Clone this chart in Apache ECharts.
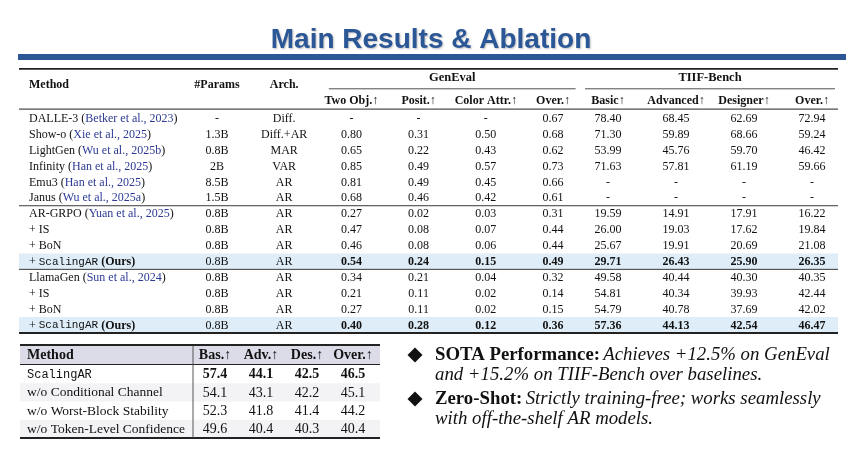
<!DOCTYPE html>
<html>
<head>
<meta charset="utf-8">
<script src="https://cdn.jsdelivr.net/npm/echarts@6/dist/echarts.min.js"></script>
<style>
  html, body { margin: 0; padding: 0; background: #fff; }
  #main { width: 862px; height: 456px; }
</style>
</head>
<body>
<div id="main"></div>
<script>
// main table
const methods = ['DALLE-3', 'Show-o', 'LightGen', 'Infinity', 'Emu3', 'Janus',
  'AR-GRPO', '+ IS', '+ BoN', '+ ScalingAR (Ours)',
  'LlamaGen', '+ IS', '+ BoN', '+ ScalingAR (Ours)'];
const citations = ['Betker et al., 2023', 'Xie et al., 2025', 'Wu et al., 2025b', 'Han et al., 2025',
  'Han et al., 2025', 'Wu et al., 2025a', 'Yuan et al., 2025', '', '', '',
  'Sun et al., 2024', '', '', ''];
const params = ['-', '1.3B', '0.8B', '2B', '8.5B', '1.5B', '0.8B', '0.8B', '0.8B', '0.8B', '0.8B', '0.8B', '0.8B', '0.8B'];
const arch = ['Diff.', 'Diff.+AR', 'MAR', 'VAR', 'AR', 'AR', 'AR', 'AR', 'AR', 'AR', 'AR', 'AR', 'AR', 'AR'];
const twoObj = [null, 0.80, 0.65, 0.85, 0.81, 0.68, 0.27, 0.47, 0.46, 0.54, 0.34, 0.21, 0.27, 0.40];
const posit = [null, 0.31, 0.22, 0.49, 0.49, 0.46, 0.02, 0.08, 0.08, 0.24, 0.21, 0.11, 0.11, 0.28];
const colorAttr = [null, 0.50, 0.43, 0.57, 0.45, 0.42, 0.03, 0.07, 0.06, 0.15, 0.04, 0.02, 0.02, 0.12];
const genOver = [0.67, 0.68, 0.62, 0.73, 0.66, 0.61, 0.31, 0.44, 0.44, 0.49, 0.32, 0.14, 0.15, 0.36];
const basic = [78.40, 71.30, 53.99, 71.63, null, null, 19.59, 26.00, 25.67, 29.71, 49.58, 54.81, 54.79, 57.36];
const advanced = [68.45, 59.89, 45.76, 57.81, null, null, 14.91, 19.03, 19.91, 26.43, 40.44, 40.34, 40.78, 44.13];
const designer = [62.69, 68.66, 59.70, 61.19, null, null, 17.91, 17.62, 20.69, 25.90, 40.30, 39.93, 37.69, 42.54];
const tiifOver = [72.94, 59.24, 46.42, 59.66, null, null, 16.22, 19.84, 21.08, 26.35, 40.35, 42.44, 42.02, 46.47];
const genHeads = ['#Params', 'Arch.', 'Two Obj.↑', 'Posit.↑', 'Color Attr.↑', 'Over.↑'];
const tiifHeads = ['Basic↑', 'Advanced↑', 'Designer↑', 'Over.↑'];
const highlightRows = [9, 13];
const breakAfter = [5, 9];

// ablation table
const ablMethods = ['ScalingAR', 'w/o Conditional Channel', 'w/o Worst-Block Stability', 'w/o Token-Level Confidence'];
const ablBas = [57.4, 54.1, 52.3, 49.6];
const ablAdv = [44.1, 43.1, 41.8, 40.4];
const ablDes = [42.5, 42.2, 41.4, 40.3];
const ablOver = [46.5, 45.1, 44.2, 40.4];
const ablHeads = ['Bas.↑', 'Adv.↑', 'Des.↑', 'Over.↑'];

const notes = [
  { head: 'SOTA Performance:', lines: ['Achieves +12.5% on GenEval', 'and +15.2% on TIIF-Bench over baselines.'] },
  { head: 'Zero-Shot:', lines: ['Strictly training-free; works seamlessly', 'with off-the-shelf AR models.'] }
];

const SERIF = '"Liberation Serif", "DejaVu Serif", serif';
const MONO = '"Liberation Mono", "DejaVu Sans Mono", monospace';
const INK = '#111';
const CITE = '#2c3a94';

const f2 = v => v == null ? '-' : v.toFixed(2);
const f1 = v => v.toFixed(1);
const genCols = [params, arch, twoObj.map(f2), posit.map(f2), colorAttr.map(f2), genOver.map(f2)];
const tiifCols = [basic, advanced, designer, tiifOver].map(a => a.map(f2));
const ablCols = [ablBas, ablAdv, ablDes, ablOver].map(a => a.map(f1));

function cells(nc, nr) {
  const d = [];
  for (let r = 0; r < nr; r++) for (let c = 0; c < nc; c++) d.push([c, r]);
  return d;
}

function methodText(name, cite) {
  if (name.indexOf('ScalingAR') >= 0) {
    const pre = name.slice(0, name.indexOf('ScalingAR'));
    const post = name.slice(name.indexOf('ScalingAR') + 9).trim();
    return (pre ? '{n|' + pre + '}' : '') + '{m|ScalingAR}' + (post ? '{n| }{b|' + post + '}' : '');
  }
  if (cite) return '{n|' + name + ' (}{c|' + cite + '}{n|)}';
  return '{n|' + name + '}';
}

function richSet(size, mono) {
  return {
    n: { fontFamily: SERIF, fontSize: size, fill: INK },
    c: { fontFamily: SERIF, fontSize: size, fill: CITE },
    m: { fontFamily: MONO, fontSize: mono, fill: INK },
    b: { fontFamily: SERIF, fontSize: size, fontWeight: 'bold', fill: INK }
  };
}

function hline(x0, x1, y, w) {
  return { type: 'line', shape: { x1: x0, y1: y, x2: x1, y2: y }, style: { stroke: '#222', lineWidth: w } };
}

function headText(x, y, text, align, size) {
  return { type: 'text', x: x, y: y, style: { text: text, fontFamily: SERIF, fontSize: size || 12, fontWeight: 'bold', fill: INK, align: align || 'center', verticalAlign: 'middle' } };
}

// frame of the main table: rules, highlight bands, method names
function mainFrame(params, api) {
  const r = api.value(1);
  const p = api.coord([0, r]);
  const h = api.size([0, 1])[1];
  const cs = params.coordSys;
  const kids = [];
  if (highlightRows.indexOf(r) >= 0) {
    kids.push({ type: 'rect', shape: { x: cs.x, y: p[1] - h / 2, width: cs.width, height: h }, style: { fill: '#deedf8' } });
  }
  kids.push({ type: 'text', x: cs.x + 10, y: p[1] + 0.5, style: { text: methodText(methods[r], citations[r]), rich: richSet(12, 11), align: 'left', verticalAlign: 'middle' } });
  if (breakAfter.indexOf(r) >= 0) kids.push(hline(cs.x, cs.x + cs.width, p[1] + h / 2, 0.9));
  if (r === 0) {
    kids.push(hline(cs.x, cs.x + cs.width, cs.y - 41.5, 1.8));
    kids.push(hline(cs.x, cs.x + cs.width, cs.y - 1.2, 1));
    kids.push(headText(cs.x + 10, cs.y - 25, 'Method', 'left'));
  }
  if (r === methods.length - 1) kids.push(hline(cs.x, cs.x + cs.width, p[1] + h / 2, 1.8));
  return { type: 'group', children: kids };
}

function mainCells(cols, heads, group, boldFrom) {
  return function (params, api) {
    const c = api.value(0), r = api.value(1);
    const p = api.coord([c, r]);
    const cs = params.coordSys;
    const bold = highlightRows.indexOf(r) >= 0 && c >= boldFrom;
    const kids = [{ type: 'text', x: p[0], y: p[1] + 0.5, style: { text: cols[c][r], fontFamily: SERIF, fontSize: 12, fontWeight: bold ? 'bold' : 'normal', fill: INK, align: 'center', verticalAlign: 'middle' } }];
    if (r === 0) {
      kids.push(headText(p[0], c >= group.from ? cs.y - 9.5 : cs.y - 25, heads[c]));
      if (c === group.from) {
        const bw = api.size([1, 0])[0];
        const x0 = p[0] - bw / 2 + 11;
        const x1 = api.coord([group.to, 0])[0] + bw / 2 - 11;
        kids.push(headText((x0 + x1) / 2, cs.y - 33, group.name, 'center', 12.5));
        kids.push(hline(x0, x1, cs.y - 21.5, 0.8));
      }
    }
    return { type: 'group', children: kids };
  };
}

function ablFrame(params, api) {
  const r = api.value(1);
  const p = api.coord([0, r]);
  const h = api.size([0, 1])[1];
  const cs = params.coordSys;
  const kids = [];
  if (r % 2 === 1) {
    kids.push({ type: 'rect', shape: { x: cs.x, y: p[1] - h / 2, width: cs.width, height: h }, style: { fill: '#f3f3f6' } });
  }
  kids.push({ type: 'text', x: cs.x + 7, y: p[1] + 0.5, style: { text: methodText(ablMethods[r], ''), rich: richSet(13.5, 12), align: 'left', verticalAlign: 'middle' } });
  if (r === 0) {
    kids.push({ type: 'rect', shape: { x: cs.x, y: cs.y - 20, width: cs.width, height: 20 }, style: { fill: '#dcdce9' } });
    kids.push(hline(cs.x, cs.x + cs.width, cs.y - 20, 1.8));
    kids.push(hline(cs.x, cs.x + cs.width, cs.y - 0.5, 1));
    kids.push(headText(cs.x + 7, cs.y - 10, 'Method', 'left', 14));
  }
  if (r === ablMethods.length - 1) kids.push(hline(cs.x, cs.x + cs.width, p[1] + h / 2, 1.8));
  return { type: 'group', children: kids };
}

function ablCells(params, api) {
  const c = api.value(0), r = api.value(1);
  const p = api.coord([c, r]);
  const cs = params.coordSys;
  const kids = [{ type: 'text', x: p[0], y: p[1] + 0.5, style: { text: ablCols[c][r], fontFamily: SERIF, fontSize: 14, fontWeight: r === 0 ? 'bold' : 'normal', fill: INK, align: 'center', verticalAlign: 'middle' } }];
  if (r === 0) {
    kids.push(headText(p[0], cs.y - 10, ablHeads[c], 'center', 14));
    if (c === 0) {
      kids.push({ type: 'line', shape: { x1: cs.x + 1, y1: cs.y - 19, x2: cs.x + 1, y2: cs.y + cs.height }, style: { stroke: '#444', lineWidth: 0.9 } });
    }
  }
  return { type: 'group', children: kids };
}

const noteGraphics = [];
notes.forEach((n, i) => {
  const y = 355 + i * 44;
  noteGraphics.push({ type: 'polygon', shape: { points: [[415, y - 7.5], [422.5, y], [415, y + 7.5], [407.5, y]] }, style: { fill: INK } });
  noteGraphics.push({ type: 'text', x: 435, y: y + 0.5, style: { text: '{b|' + n.head + '} {i|' + n.lines[0] + '}', verticalAlign: 'middle', rich: {
    b: { fontFamily: SERIF, fontSize: 18.8, fontWeight: 'bold', fill: INK },
    i: { fontFamily: SERIF, fontSize: 18.8, fontStyle: 'italic', fill: INK } } } });
  noteGraphics.push({ type: 'text', x: 435, y: y + 20.5, style: { text: n.lines[1], fontFamily: SERIF, fontSize: 18.8, fontStyle: 'italic', fill: INK, verticalAlign: 'middle' } });
});

const TOP = 110.3, H = 222.7;
const chart = echarts.init(document.getElementById('main'));
chart.setOption({
  animation: false,
  backgroundColor: '#fff',
  title: {
    text: 'Main Results & Ablation', left: 'center', top: 21,
    textStyle: { fontFamily: '"Liberation Sans", Arial, sans-serif', fontSize: 28, fontWeight: 'bold', color: '#2b5797',
      textShadowColor: 'rgba(0,0,0,0.25)', textShadowBlur: 2, textShadowOffsetX: 1, textShadowOffsetY: 1 }
  },
  graphic: [
    { type: 'rect', shape: { x: 18, y: 54, width: 828, height: 6 }, style: { fill: '#2b5797' } }
  ].concat(noteGraphics),
  grid: [
    { left: 19, top: TOP, width: 819, height: H },
    { left: 183.4, top: TOP, width: 403.2, height: H },
    { left: 574, top: TOP, width: 272, height: H },
    { left: 20, top: 365, width: 360, height: 73 },
    { left: 192, top: 365, width: 184, height: 73 }
  ],
  xAxis: [
    { gridIndex: 0, type: 'category', data: ['Method'], show: false },
    { gridIndex: 1, type: 'category', data: genHeads, show: false },
    { gridIndex: 2, type: 'category', data: tiifHeads, show: false },
    { gridIndex: 3, type: 'category', data: ['Method'], show: false },
    { gridIndex: 4, type: 'category', data: ablHeads, show: false }
  ],
  yAxis: [
    { gridIndex: 0, type: 'category', data: methods, inverse: true, show: false },
    { gridIndex: 1, type: 'category', data: methods, inverse: true, show: false },
    { gridIndex: 2, type: 'category', data: methods, inverse: true, show: false },
    { gridIndex: 3, type: 'category', data: ablMethods, inverse: true, show: false },
    { gridIndex: 4, type: 'category', data: ablMethods, inverse: true, show: false }
  ],
  series: [
    { type: 'custom', name: 'frame', xAxisIndex: 0, yAxisIndex: 0, z: 1, silent: true,
      data: cells(1, methods.length), renderItem: mainFrame },
    { type: 'custom', name: 'GenEval', xAxisIndex: 1, yAxisIndex: 1, z: 2, silent: true,
      data: cells(genHeads.length, methods.length),
      renderItem: mainCells(genCols, genHeads, { name: 'GenEval', from: 2, to: 5 }, 2) },
    { type: 'custom', name: 'TIIF-Bench', xAxisIndex: 2, yAxisIndex: 2, z: 2, silent: true,
      data: cells(tiifHeads.length, methods.length),
      renderItem: mainCells(tiifCols, tiifHeads, { name: 'TIIF-Bench', from: 0, to: 3 }, 0) },
    { type: 'custom', name: 'ablationFrame', xAxisIndex: 3, yAxisIndex: 3, z: 1, silent: true,
      data: cells(1, ablMethods.length), renderItem: ablFrame },
    { type: 'custom', name: 'ablation', xAxisIndex: 4, yAxisIndex: 4, z: 2, silent: true,
      data: cells(ablHeads.length, ablMethods.length), renderItem: ablCells }
  ]
});
</script>
</body>
</html>
